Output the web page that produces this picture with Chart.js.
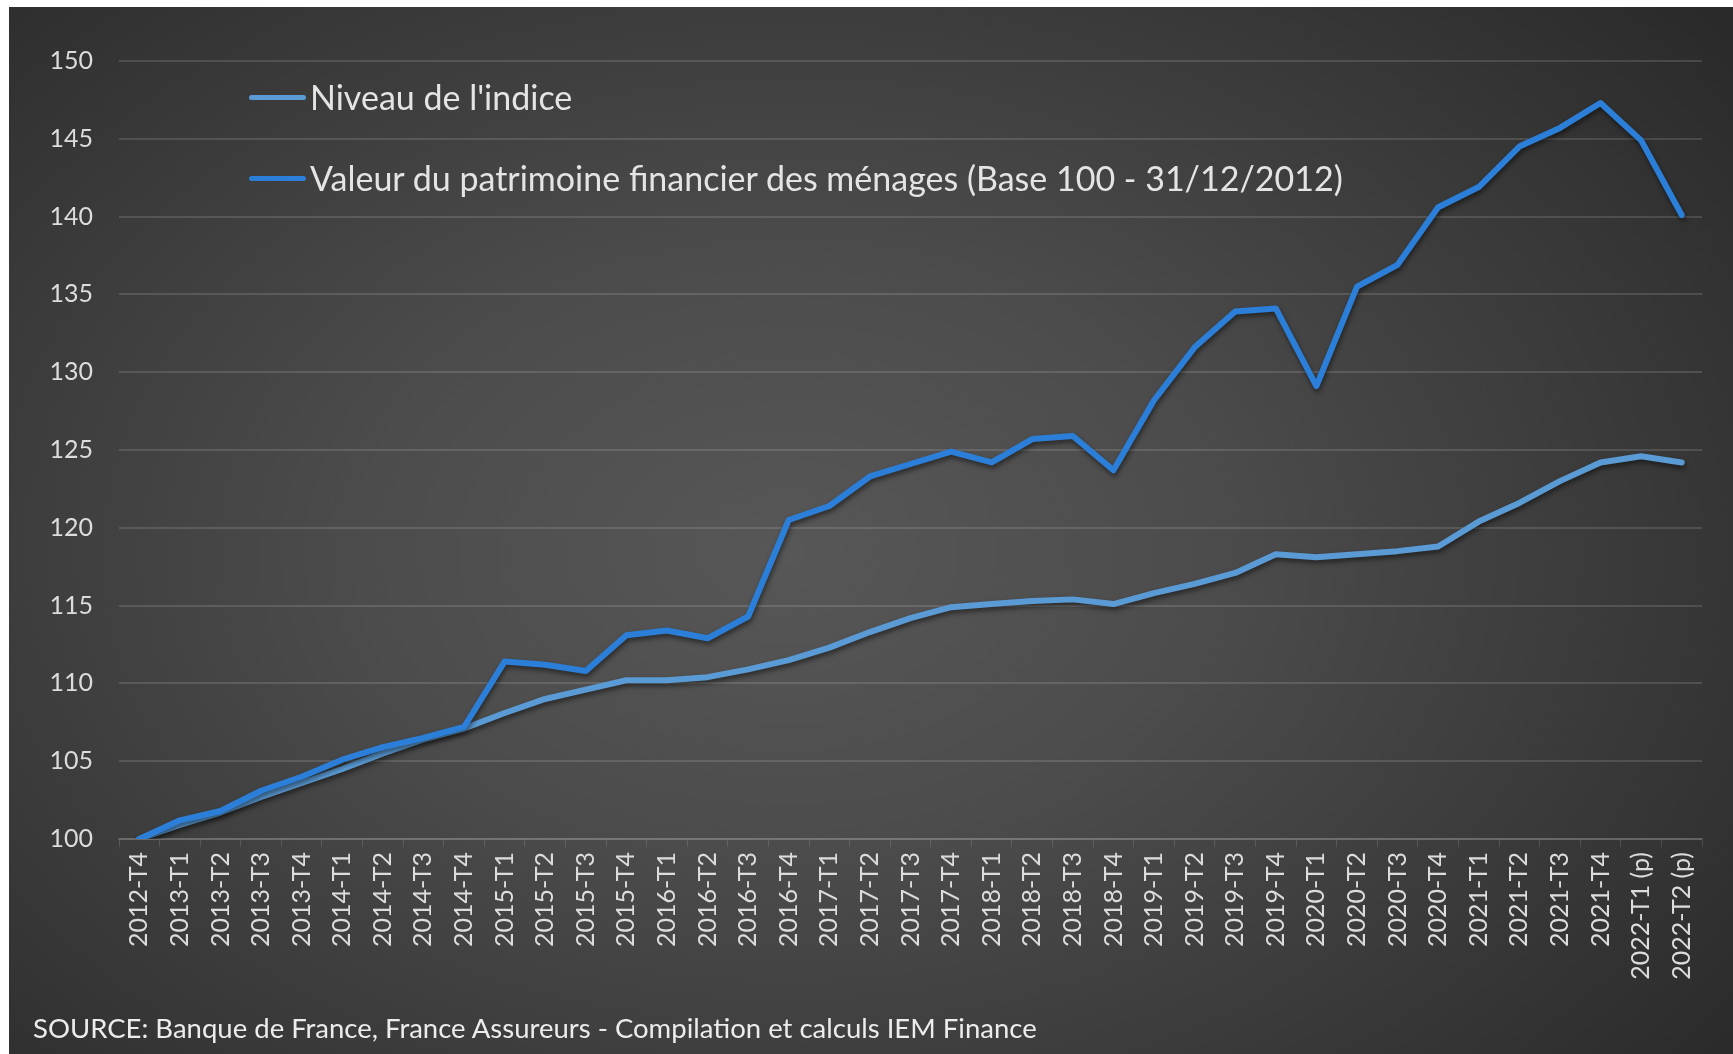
<!DOCTYPE html>
<html lang="fr">
<head>
    <meta charset="UTF-8">
    <title>Patrimoine financier des ménages</title>
    <script src="https://cdn.jsdelivr.net/npm/chart.js"></script>
    <style>
        * {
            margin: 0;
            padding: 0;
            box-sizing: border-box;
        }

        body {
            background: #fff;
            width: 1733px;
            height: 1054px;
            overflow: hidden;
            font-family: Lato, "Open Sans", sans-serif;
        }

        .frame {
            position: absolute;
            left: 9px;
            top: 7px;
            right: 0;
            bottom: 0;
            background: radial-gradient(ellipse 70% 80% at 45% 52%, #575757 0%, #4c4c4c 35%, #2a2a2a 100%);
        }

        .chart-box {
            position: absolute;
            left: 0;
            top: 0;
            width: 1733px;
            height: 1054px;
        }

        .legend {
            position: absolute;
            left: 249px;
            top: 0;
        }

        .legend-item {
            position: absolute;
            left: 0;
            white-space: nowrap;
            color: #e4e4e4;
            font-size: 34px;
            line-height: 40px;
            display: flex;
            align-items: center;
        }

        .legend-item .swatch {
            display: inline-block;
            width: 57px;
            height: 5px;
            border-radius: 3px;
            margin-right: 4px;
        }

        .source {
            position: absolute;
            left: 33px;
            top: 1011px;
            color: #ececec;
            font-size: 27.5px;
            white-space: nowrap;
        }
    </style>
</head>
<body>
    <div class="frame"></div>
    <div class="chart-box">
        <canvas id="chart"></canvas>
    </div>
    <div class="legend" id="legend"></div>
    <div class="source">SOURCE: Banque de France, France Assureurs - Compilation et calculs IEM Finance</div>

    <script>
        // quarters, 2012-T4 .. 2022-T2
        const quarters = [
            '2012-T4',
            '2013-T1', '2013-T2', '2013-T3', '2013-T4',
            '2014-T1', '2014-T2', '2014-T3', '2014-T4',
            '2015-T1', '2015-T2', '2015-T3', '2015-T4',
            '2016-T1', '2016-T2', '2016-T3', '2016-T4',
            '2017-T1', '2017-T2', '2017-T3', '2017-T4',
            '2018-T1', '2018-T2', '2018-T3', '2018-T4',
            '2019-T1', '2019-T2', '2019-T3', '2019-T4',
            '2020-T1', '2020-T2', '2020-T3', '2020-T4',
            '2021-T1', '2021-T2', '2021-T3', '2021-T4',
            '2022-T1 (p)', '2022-T2 (p)'
        ];

        const niveauIndice = [
            100, 100.9, 101.7, 102.7, 103.6, 104.5, 105.5, 106.4, 107.1,
            108.1, 109.0, 109.6, 110.2, 110.2, 110.4, 110.9, 111.5,
            112.3, 113.3, 114.2, 114.9, 115.1, 115.3, 115.4, 115.1,
            115.8, 116.4, 117.1, 118.3, 118.1, 118.3, 118.5, 118.8,
            120.4, 121.6, 123.0, 124.2, 124.6, 124.2
        ];

        const valeurPatrimoine = [
            100, 101.2, 101.8, 103.1, 104.0, 105.1, 105.9, 106.5, 107.2,
            111.4, 111.2, 110.8, 113.1, 113.4, 112.9, 114.3, 120.5,
            121.4, 123.3, 124.1, 124.9, 124.2, 125.7, 125.9, 123.7,
            128.2, 131.6, 133.9, 134.1, 129.1, 135.5, 136.9, 140.6,
            141.9, 144.5, 145.7, 147.3, 144.9, 140.1
        ];

        const seriesNames = [
            "Niveau de l'indice",
            'Valeur du patrimoine financier des ménages (Base 100 - 31/12/2012)'
        ];
        const seriesColors = ['#5b9bd5', '#2b7fd8'];

        const yMin = 100;
        const yMax = 150;
        const yStep = 5;

        const textColor = '#dcdcdc';
        const gridColor = 'rgba(255,255,255,0.13)';

        // soft shadow under the lines, like the original
        const lineShadow = {
            id: 'lineShadow',
            beforeDatasetsDraw(chart) {
                const c = chart.ctx;
                c.save();
                c.shadowColor = 'rgba(0,0,0,0.5)';
                c.shadowBlur = 5;
                c.shadowOffsetX = 1;
                c.shadowOffsetY = 3;
            },
            afterDatasetsDraw(chart) {
                chart.ctx.restore();
            }
        };

        const ctx = document.getElementById('chart').getContext('2d');
        const chart = new Chart(ctx, {
            type: 'line',
            data: {
                labels: quarters,
                datasets: [
                    {
                        label: seriesNames[0],
                        data: niveauIndice,
                        borderColor: seriesColors[0],
                        backgroundColor: seriesColors[0],
                        borderWidth: 6,
                        pointRadius: 0,
                        tension: 0,
                        borderJoinStyle: 'round',
                        borderCapStyle: 'round',
                        order: 2
                    },
                    {
                        label: seriesNames[1],
                        data: valeurPatrimoine,
                        borderColor: seriesColors[1],
                        backgroundColor: seriesColors[1],
                        borderWidth: 6,
                        pointRadius: 0,
                        tension: 0,
                        borderJoinStyle: 'round',
                        borderCapStyle: 'round',
                        order: 1
                    }
                ]
            },
            options: {
                responsive: true,
                maintainAspectRatio: false,
                animation: false,
                layout: {
                    padding: { top: 61, right: 31, bottom: 0, left: 0 }
                },
                scales: {
                    x: {
                        offset: true,
                        grid: {
                            offset: true,
                            drawOnChartArea: false,
                            drawTicks: true,
                            tickLength: 8,
                            color: gridColor
                        },
                        border: { display: true, color: gridColor, width: 2 },
                        ticks: {
                            color: textColor,
                            font: { family: 'Lato', size: 25 },
                            minRotation: 90,
                            maxRotation: 90,
                            autoSkip: false,
                            padding: 5
                        },
                        afterFit(scale) {
                            scale.height = 215;
                        }
                    },
                    y: {
                        min: yMin,
                        max: yMax,
                        grid: {
                            color: gridColor,
                            lineWidth: 2,
                            drawTicks: false
                        },
                        border: { display: false },
                        ticks: {
                            stepSize: yStep,
                            color: textColor,
                            font: { family: 'Lato', size: 25 },
                            padding: 26
                        },
                        afterFit(scale) {
                            scale.width = 119;
                        }
                    }
                },
                plugins: {
                    legend: { display: false },
                    tooltip: { enabled: false }
                }
            },
            plugins: [lineShadow]
        });

        // legend drawn as html, stacked inside the plot area
        const legendTops = [77, 158];
        const legendEl = document.getElementById('legend');
        chart.data.datasets.forEach((ds, i) => {
            const item = document.createElement('div');
            item.className = 'legend-item';
            item.style.top = legendTops[i] + 'px';
            const sw = document.createElement('span');
            sw.className = 'swatch';
            sw.style.background = ds.borderColor;
            const txt = document.createElement('span');
            txt.textContent = ds.label;
            item.appendChild(sw);
            item.appendChild(txt);
            legendEl.appendChild(item);
        });
    </script>
</body>
</html>
